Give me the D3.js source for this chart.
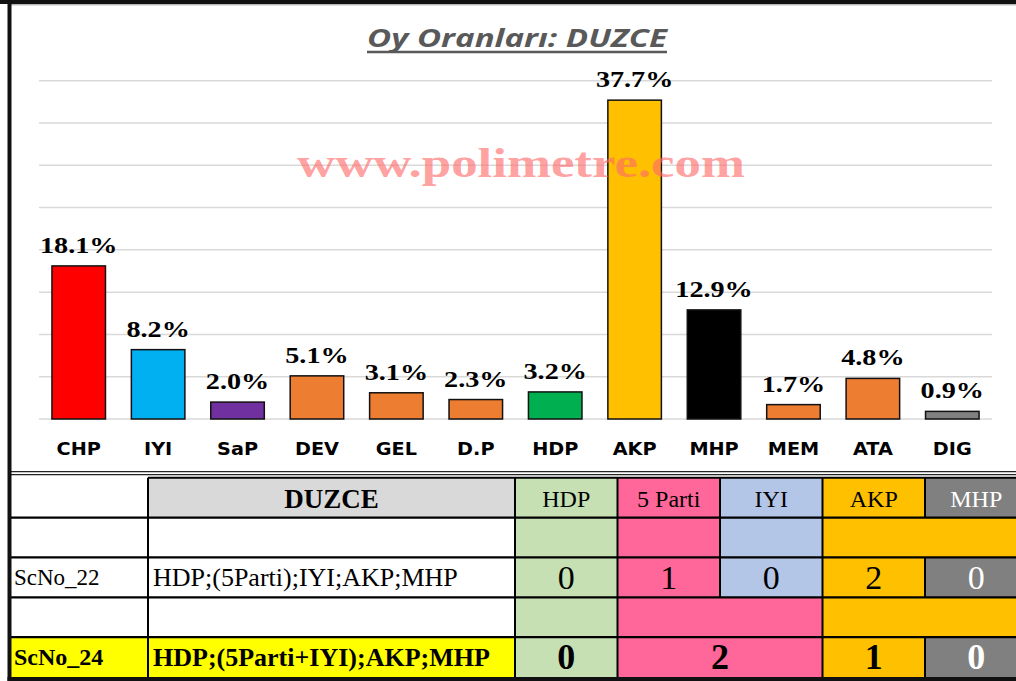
<!DOCTYPE html>
<html>
<head>
  <meta charset="utf-8">
  <title>Oy Oranlari DUZCE</title>
  <script src="https://cdnjs.cloudflare.com/ajax/libs/d3/7.8.5/d3.min.js"></script>
  <style>
     body { margin: 0; background: white; }
  </style>
</head>
<body>
<div id="svgcontainer"></div>
<script>
var width = 1016;
var height = 681;

// ----- Data -----
var parties = ['CHP', 'IYI', 'SaP', 'DEV', 'GEL', 'D.P', 'HDP', 'AKP', 'MHP', 'MEM', 'ATA', 'DIG'];
var shares  = [18.1, 8.2, 2.0, 5.1, 3.1, 2.3, 3.2, 37.7, 12.9, 1.7, 4.8, 0.9];
var barColors = ['#ff0000', '#00b0f0', '#7030a0', '#ed7d31', '#ed7d31', '#ed7d31',
                 '#00b050', '#ffc000', '#000000', '#ed7d31', '#ed7d31', '#808080'];
var gridValues = [0, 5, 10, 15, 20, 25, 30, 35, 40];

var tableTitle = 'DUZCE';
var tableParties = ['HDP', '5 Parti', 'IYI', 'AKP', 'MHP'];
var tableColors  = ['#c6e0b4', '#ff6699', '#b4c6e7', '#ffc000', '#808080'];
var tableText    = ['black', 'black', 'black', 'black', 'white'];

// scenario rows: groups = colour row above, spans = merged cells of the seat row
var sc22Label = 'ScNo_22';
var sc22Formula = 'HDP;(5Parti);IYI;AKP;MHP';
var sc22Groups = [1, 1, 1, 2];
var sc22Spans  = [1, 1, 1, 1, 1];
var sc22Seats  = [0, 1, 0, 2, 0];

var sc24Label = 'ScNo_24';
var sc24Formula = 'HDP;(5Parti+IYI);AKP;MHP';
var sc24Groups = [1, 2, 2];
var sc24Spans  = [1, 2, 1, 1];
var sc24Seats  = [0, 2, 1, 0];

// ----- Helpers -----
function addRect(ctx, x, y, w, h, c, atts) {
   let obj = ctx.append('rect')
          .attr('x', x).attr('y', y)
          .attr('width', w).attr('height', h)
          .attr('fill', c);
   if (atts) { for (let att of atts) obj.attr(...att); }
   return obj;
}

function addLine(ctx, x1, y1, x2, y2, c, w) {
   return ctx.append('line')
          .attr('x1', x1).attr('y1', y1)
          .attr('x2', x2).attr('y2', y2)
          .attr('stroke', c)
          .attr('stroke-width', w || 1);
}

function addText(ctx, x, y, t, atts) {
   let obj = ctx.append('text')
          .attr('x', x).attr('y', y)
          .text(t);
   if (atts) { for (let att of atts) obj.attr(...att); }
   return obj;
}

// ----- Main -----
var svg = d3.select('#svgcontainer')
            .append('svg')
            .attr('width', width)
            .attr('height', height);

addRect(svg, 0, 0, width, height, 'white');

var x = d3.scaleBand()
          .domain(parties)
          .range([39, 992])
          .paddingInner(0.326)
          .paddingOuter(0.163);

var y = d3.scaleLinear()
          .domain([0, 40])
          .range([419, 80.7]);

// gridlines
svg.append('g').selectAll('line')
   .data(gridValues)
   .join('line')
   .attr('x1', 39).attr('x2', 992)
   .attr('y1', d => y(d)).attr('y2', d => y(d))
   .attr('stroke', '#d9d9d9')
   .attr('stroke-width', 1.5);

// bars
svg.append('g').selectAll('rect')
   .data(parties)
   .join('rect')
   .attr('x', d => x(d))
   .attr('width', x.bandwidth())
   .attr('y', (d, i) => y(shares[i]))
   .attr('height', (d, i) => y(0) - y(shares[i]))
   .attr('fill', (d, i) => barColors[i])
   .attr('stroke', '#111')
   .attr('stroke-width', 1.5);

// value labels
svg.append('g').selectAll('text')
   .data(parties)
   .join('text')
   .attr('transform', (d, i) => `translate(${x(d) + x.bandwidth() / 2},${y(shares[i]) - 13}) scale(1.2,1)`)
   .attr('text-anchor', 'middle')
   .attr('font-family', 'Liberation Serif')
   .attr('font-weight', 'bold')
   .attr('font-size', 23.5)
   .attr('fill', 'black')
   .text((d, i) => shares[i].toFixed(1) + '%');

// category labels
svg.append('g').selectAll('text')
   .data(parties)
   .join('text')
   .attr('transform', d => `translate(${x(d) + x.bandwidth() / 2},454.5) scale(1.1,1)`)
   .attr('text-anchor', 'middle')
   .attr('font-family', 'DejaVu Sans')
   .attr('font-weight', 'bold')
   .attr('font-size', 17.5)
   .attr('fill', 'black')
   .text(d => d);

// watermark
addText(svg, 297, 177, 'www.polimetre.com', [
   ['font-family', 'Liberation Serif'], ['font-weight', 'bold'], ['font-size', 43],
   ['textLength', 448], ['lengthAdjust', 'spacingAndGlyphs'],
   ['fill', '#ff6b6b'], ['fill-opacity', 0.65]
]);

// title
addText(svg, 367, 47, 'Oy Oranları: DUZCE', [
   ['font-family', 'Open Sans'], ['font-weight', 'bold'], ['font-style', 'italic'],
   ['font-size', 25], ['textLength', 300], ['lengthAdjust', 'spacingAndGlyphs'],
   ['fill', '#595959']
]);
addLine(svg, 367, 52, 667, 52, '#595959', 2.5);

// ----- Table -----
var col0 = 11, col1 = 148, col2 = 515;
var px = d3.scaleBand().domain(tableParties).range([col2, 1027.5]);
var rows = d3.scaleBand().domain([0, 1, 2, 3, 4]).range([477.7, 677]);
var rh = rows.bandwidth();
var tbl = svg.append('g');

// double rule above the table
addLine(tbl, col0, 471.7, width, 471.7, '#222', 1.3);
addLine(tbl, col0, 474.6, width, 474.6, '#222', 1.3);

// header row
addRect(tbl, col1, rows(0), col2 - col1, rh, '#d9d9d9');
addText(tbl, (col1 + col2) / 2, rows(0) + 30, tableTitle, [
   ['text-anchor', 'middle'], ['font-family', 'Liberation Serif'],
   ['font-weight', 'bold'], ['font-size', 27]
]);
tableParties.forEach((p, i) => {
   addRect(tbl, px(p), rows(0), px.bandwidth(), rh, tableColors[i]);
   addText(tbl, px(p) + px.bandwidth() / 2, rows(0) + 29, p, [
      ['text-anchor', 'middle'], ['font-family', 'Liberation Serif'],
      ['font-size', 24], ['fill', tableText[i]]
   ]);
});

// draws a row of merged party cells; returns the cell extents
function partyCells(row, spans) {
   let cells = [], k = 0;
   spans.forEach(s => {
      let x0 = px(tableParties[k]);
      let x1 = px(tableParties[k + s - 1]) + px.bandwidth();
      cells.push({ x0: x0, x1: x1, idx: k });
      addRect(tbl, x0, rows(row), x1 - x0, rh, tableColors[k]);
      k += s;
   });
   return cells;
}

function scenario(blankRow, groups, spans, seats, label, formula, bold) {
   let r = blankRow + 1;
   partyCells(blankRow, groups);
   if (bold) addRect(tbl, col0, rows(r), col2 - col0, rh, '#ffff00');
   let cells = partyCells(r, spans);
   let fw = bold ? 'bold' : 'normal';
   addText(tbl, col0 + 3, rows(r) + 28, label, [
      ['font-family', 'Liberation Serif'], ['font-weight', fw], ['font-size', bold ? 24 : 23]
   ]);
   addText(tbl, col1 + 5, rows(r) + 29, formula, [
      ['font-family', 'Liberation Serif'], ['font-weight', fw], ['font-size', 26]
   ]);
   cells.forEach((c, i) => {
      addText(tbl, (c.x0 + c.x1) / 2, rows(r) + 32, seats[i], [
         ['text-anchor', 'middle'], ['font-family', 'Liberation Serif'],
         ['font-weight', fw], ['font-size', bold ? 36 : 34], ['fill', tableText[c.idx]]
      ]);
   });
}

scenario(1, sc22Groups, sc22Spans, sc22Seats, sc22Label, sc22Formula, false);
scenario(3, sc24Groups, sc24Spans, sc24Seats, sc24Label, sc24Formula, true);

// table rules
function vlines(row, spans) {
   let k = 0;
   spans.forEach(s => {
      let xx = px(tableParties[k]);
      addLine(tbl, xx, rows(row), xx, rows(row) + rh, 'black', 2);
      k += s;
   });
}
addLine(tbl, col1, rows(0), width, rows(0), 'black', 2);
for (let r = 1; r <= 4; r++) {
   addLine(tbl, col0, rows(r), width, rows(r), 'black', 2.2);
}
addLine(tbl, col1, rows(0), col1, rows(4) + rh, 'black', 2);
vlines(0, [1, 1, 1, 1, 1]);
vlines(1, sc22Groups);
vlines(2, sc22Spans);
vlines(3, sc24Groups);
vlines(4, sc24Spans);

// ----- Frame -----
addRect(svg, 0, 0, width, 4, '#111');
addLine(svg, 11, 4.8, width, 4.8, '#999', 1);
addRect(svg, 7.5, 0, 4, height, '#111');
addRect(svg, 7.5, 677, width, 4, '#111');
</script>
</body>
</html>
